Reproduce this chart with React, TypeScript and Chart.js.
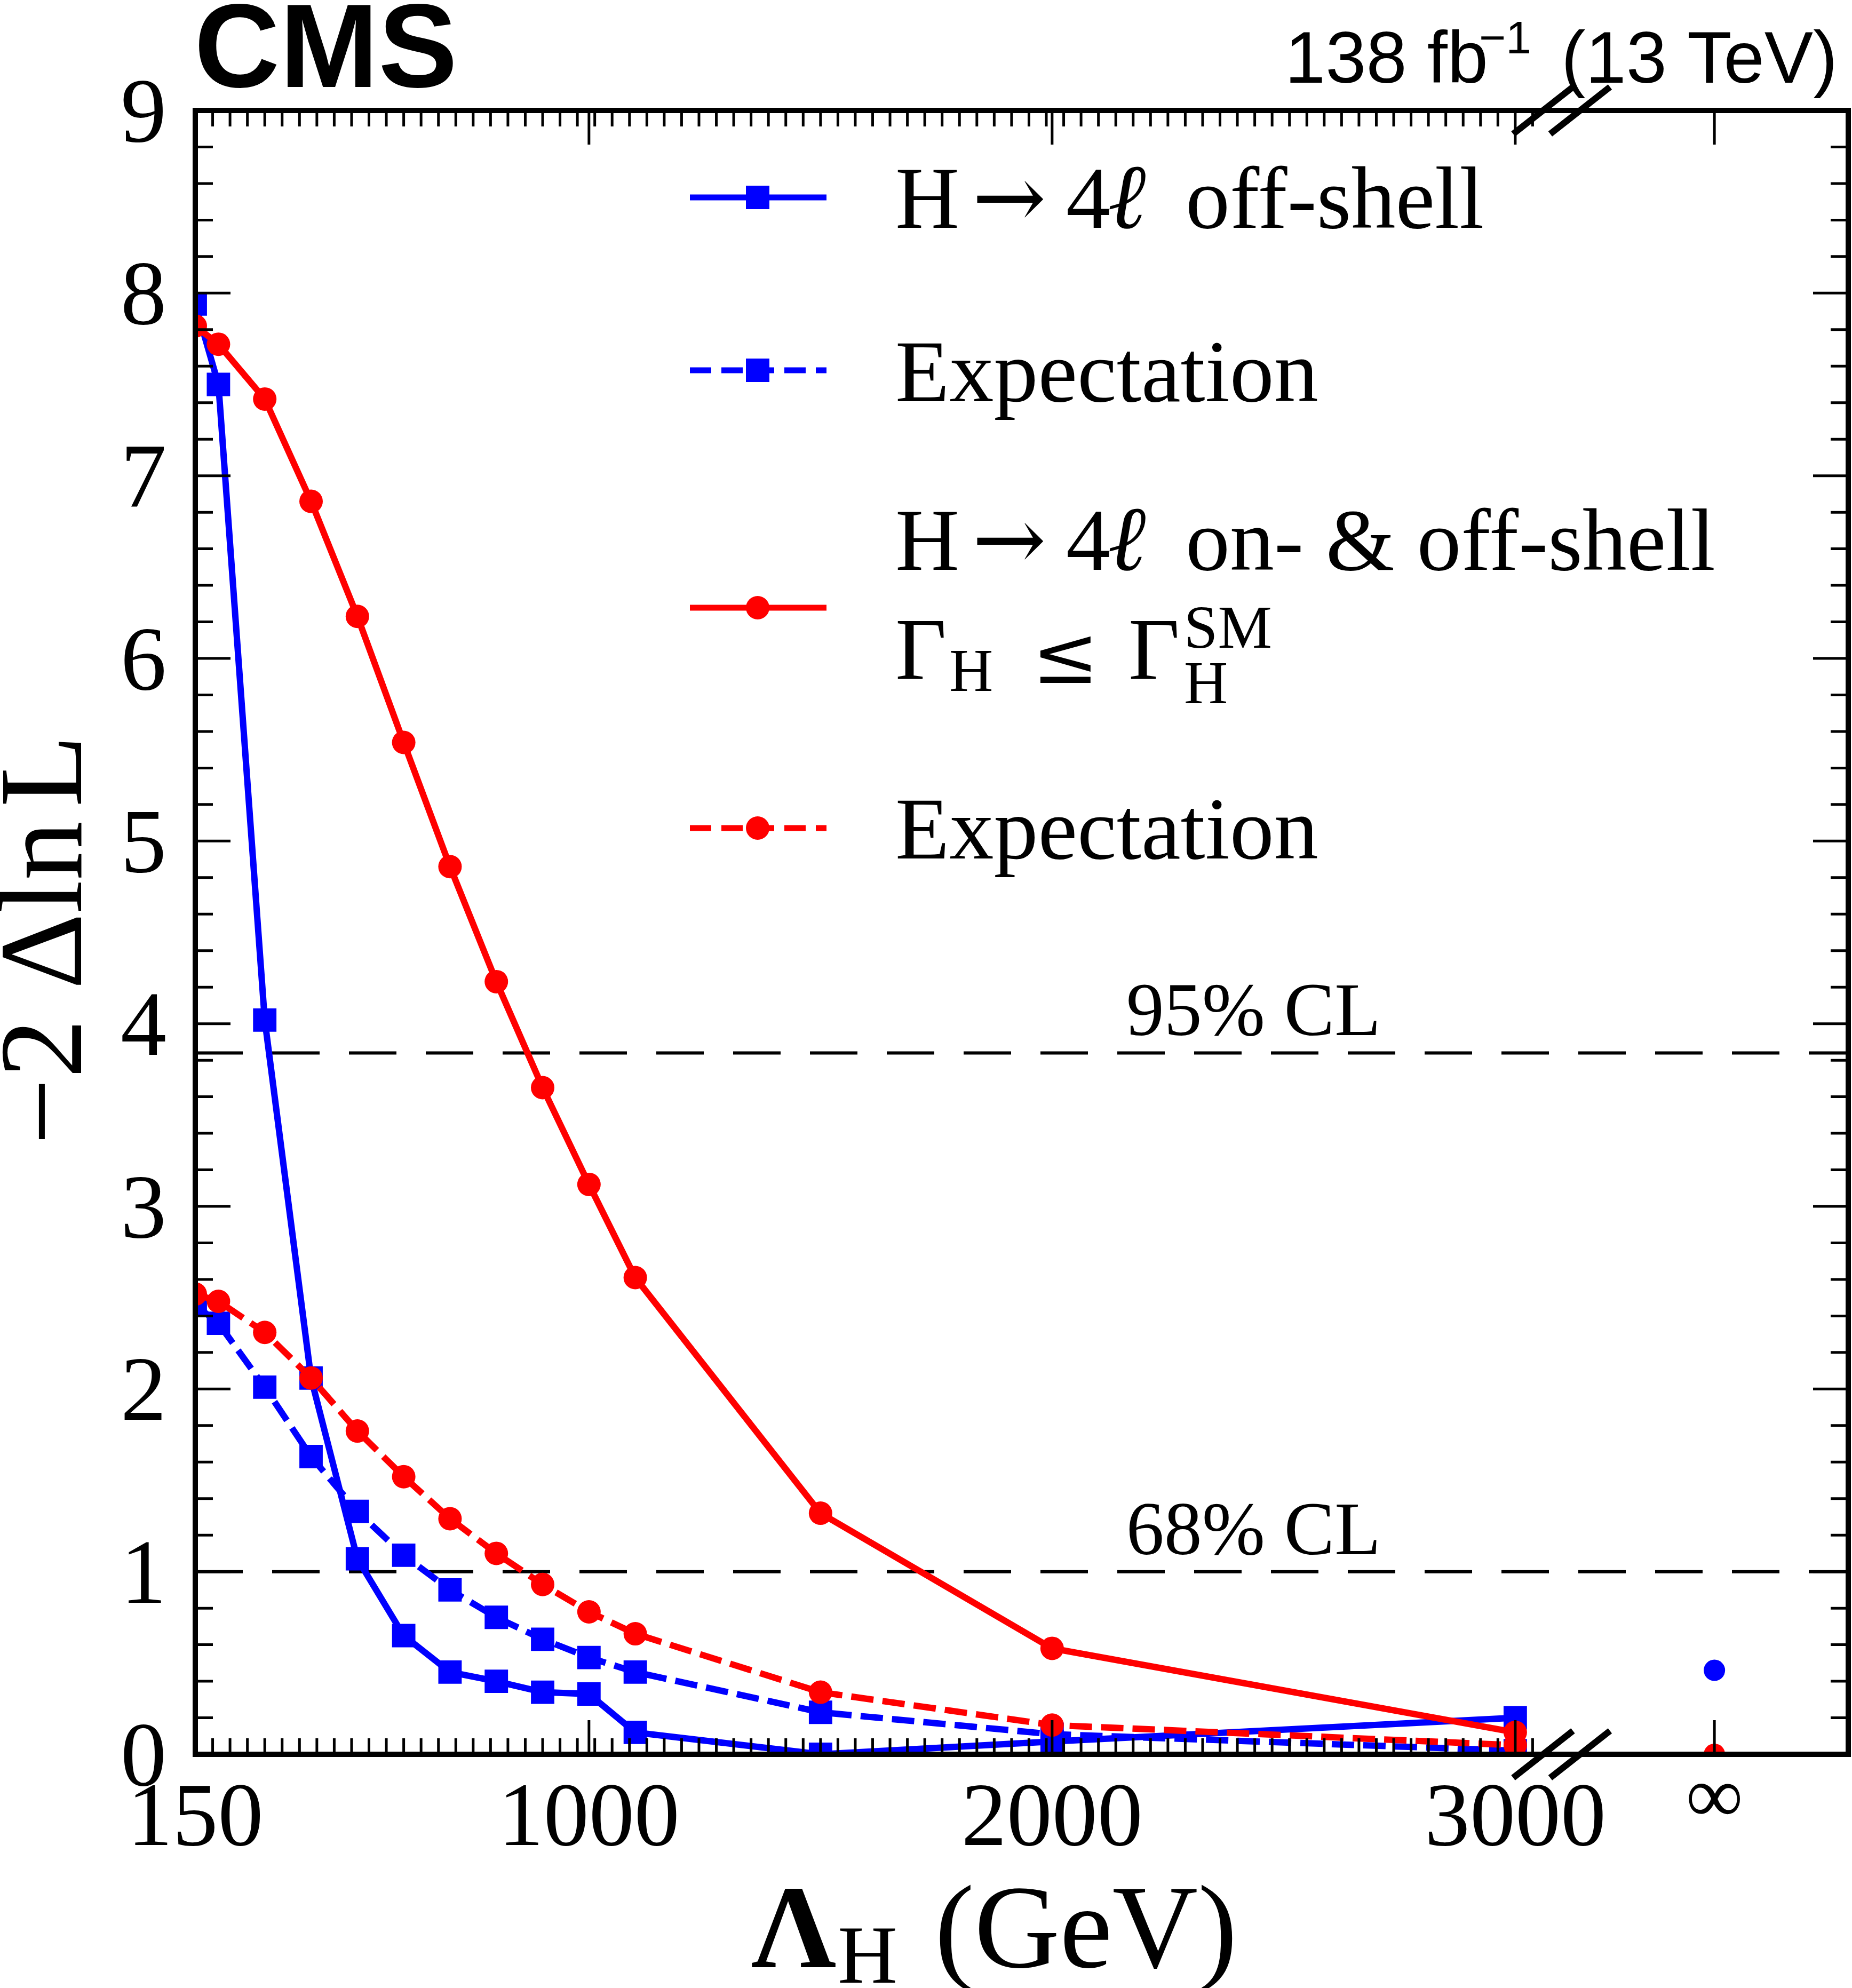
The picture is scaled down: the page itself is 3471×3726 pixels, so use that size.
import { useEffect, useRef } from "react";
import Chart from "chart.js/auto";

// Lambda_H points (GeV); the last column sits at the "infinity" slot after the axis break
const X_VALUES = [150, 200, 300, 400, 500, 600, 700, 800, 900, 1000, 1100, 1500, 2000, 3000];
const OFFSHELL_OBS = [7.94, 7.5, 4.02, 2.06, 1.07, 0.65, 0.45, 0.4, 0.34, 0.33, 0.12, 0.0, 0.07, 0.2];
const OFFSHELL_EXP = [2.46, 2.36, 2.01, 1.63, 1.33, 1.09, 0.9, 0.75, 0.63, 0.53, 0.45, 0.23, 0.11, 0.02];
const ONOFF_OBS = [7.82, 7.72, 7.42, 6.86, 6.23, 5.54, 4.86, 4.23, 3.65, 3.12, 2.61, 1.32, 0.58, 0.12];
const ONOFF_EXP = [2.52, 2.48, 2.31, 2.06, 1.77, 1.52, 1.29, 1.1, 0.93, 0.78, 0.66, 0.34, 0.16, 0.05];

const INF_X = 3430;
const OFFSHELL_INF = 0.46;
const ONOFF_INF = 0.0;

const X_MIN = 150;
const X_MAX = 3719;
const Y_MIN = 0;
const Y_MAX = 9;
const X_TICKS = [150, 1000, 2000, 3000];
const X_TICK_LABELS = ["150", "1000", "2000", "3000"];
const X_MAJOR_MARKS = [1000, 2000, 3000, INF_X];
const Y_TICKS = [0, 1, 2, 3, 4, 5, 6, 7, 8, 9];
const MINOR_X_STEP = 37.5;
const MINOR_X_END = 3040;
const BREAK_X = [3060, 3140];

const CL_LEVELS = [1, 3.84];
const CL_LABELS = ["68% CL", "95% CL"];
const CL_LABEL_X = 2160;

const BLUE = "#0000ff";
const RED = "#ff0000";
const SERIF = '"Liberation Serif", "Times New Roman", serif';
const MATH = '"DejaVu Serif", "Liberation Serif", serif';
const SANS = '"Liberation Sans", Arial, sans-serif';
const DASH = [42, 17];

const text = (
  ctx: CanvasRenderingContext2D,
  s: string,
  x: number,
  y: number,
  font: string,
  align: CanvasTextAlign = "left"
) => {
  ctx.font = font;
  ctx.textAlign = align;
  ctx.textBaseline = "alphabetic";
  ctx.fillText(s, x, y);
};

const rootStyle = {
  id: "rootStyle",
  beforeDatasetsDraw(chart: any) {
    const { ctx, chartArea } = chart;
    const ys = chart.scales.y;
    const xs = chart.scales.x;
    ctx.save();
    ctx.strokeStyle = "#000";
    ctx.fillStyle = "#000";
    ctx.lineWidth = 6;
    ctx.setLineDash([89, 55]);
    CL_LEVELS.forEach((v, i) => {
      const y = ys.getPixelForValue(v);
      ctx.beginPath();
      ctx.moveTo(chartArea.left, y);
      ctx.lineTo(chartArea.right, y);
      ctx.stroke();
      text(ctx, CL_LABELS[i], xs.getPixelForValue(CL_LABEL_X), y - 33, `142px ${SERIF}`);
    });
    ctx.restore();
  },
  afterDatasetsDraw(chart: any) {
    const { ctx, chartArea } = chart;
    const { left, right, top, bottom } = chartArea;
    const xs = chart.scales.x;
    const ys = chart.scales.y;
    ctx.save();
    ctx.setLineDash([]);
    ctx.strokeStyle = "#000";
    ctx.fillStyle = "#000";

    // ticks
    ctx.lineWidth = 5;
    ctx.beginPath();
    for (let k = 0; k <= 45; k++) {
      const y = ys.getPixelForValue(k * 0.2);
      const len = k % 5 === 0 ? 66 : 33;
      ctx.moveTo(left, y);
      ctx.lineTo(left + len, y);
      ctx.moveTo(right, y);
      ctx.lineTo(right - len, y);
    }
    for (let v = X_MIN; v <= MINOR_X_END; v += MINOR_X_STEP) {
      const x = xs.getPixelForValue(v);
      ctx.moveTo(x, bottom);
      ctx.lineTo(x, bottom - 30);
      ctx.moveTo(x, top);
      ctx.lineTo(x, top + 30);
    }
    X_MAJOR_MARKS.forEach((v) => {
      const x = xs.getPixelForValue(v);
      ctx.moveTo(x, bottom);
      ctx.lineTo(x, bottom - 64);
      ctx.moveTo(x, top);
      ctx.lineTo(x, top + 64);
    });
    ctx.stroke();

    // frame
    ctx.lineWidth = 10;
    ctx.strokeRect(left, top, right - left, bottom - top);

    // axis break marks
    ctx.lineWidth = 12;
    ctx.beginPath();
    BREAK_X.forEach((v) => {
      const x = xs.getPixelForValue(v);
      [top, bottom].forEach((y) => {
        ctx.moveTo(x - 56, y + 44);
        ctx.lineTo(x + 56, y - 44);
      });
    });
    ctx.stroke();

    // tick labels
    Y_TICKS.forEach((v) => {
      text(ctx, String(v), 312, ys.getPixelForValue(v) + 58, `172px ${SERIF}`, "right");
    });
    X_TICKS.forEach((v, i) => {
      text(ctx, X_TICK_LABELS[i], xs.getPixelForValue(v), 3458, `170px ${SERIF}`, "center");
    });
    ctx.font = `150px ${SERIF}`;
    const m = ctx.measureText("\u221e");
    const infBase = 3372 + (m.actualBoundingBoxAscent - m.actualBoundingBoxDescent) / 2;
    text(ctx, "\u221e", xs.getPixelForValue(INF_X), infBase, `150px ${SERIF}`, "center");

    // axis titles
    text(ctx, "\u039b", 1408, 3687, `bold 222px ${SERIF}`);
    text(ctx, "H", 1570, 3716, `155px ${SERIF}`);
    text(ctx, "(GeV)", 1752, 3687, `222px ${SERIF}`);

    ctx.save();
    ctx.translate(152, 2146);
    ctx.rotate(-Math.PI / 2);
    const yTitle = "\u22122 \u0394ln";
    text(ctx, yTitle, 0, 0, `222px ${SERIF}`);
    const w = ctx.measureText(yTitle).width;
    text(ctx, "L", w + 26, 0, `222px ${SERIF}`);
    ctx.restore();

    // header
    text(ctx, "CMS", 364, 163, `bold 222px ${SANS}`);
    text(ctx, "138 fb", 2408, 155, `137px ${SANS}`);
    text(ctx, "\u22121", 2772, 100, `86px ${SANS}`);
    text(ctx, "(13 TeV)", 2926, 155, `137px ${SANS}`);

    // legend
    const symbol = (y: number, color: string, dashed: boolean, square: boolean) => {
      ctx.strokeStyle = color;
      ctx.fillStyle = color;
      ctx.lineWidth = 11;
      ctx.setLineDash(dashed ? [40, 19] : []);
      ctx.beginPath();
      ctx.moveTo(1293, y);
      ctx.lineTo(1549, y);
      ctx.stroke();
      ctx.setLineDash([]);
      if (square) {
        ctx.fillRect(1420 - 22, y - 22, 44, 44);
      } else {
        ctx.beginPath();
        ctx.arc(1420, y, 22, 0, Math.PI * 2);
        ctx.fill();
      }
    };
    symbol(370, BLUE, false, true);
    symbol(694, BLUE, true, true);
    symbol(1139, RED, false, false);
    symbol(1552, RED, true, false);

    ctx.fillStyle = "#000";
    const F = `166px ${SERIF}`;
    const FS = `114px ${SERIF}`;
    const decay = (y: number, rest: string) => {
      text(ctx, "H", 1678, y, F);
      text(ctx, "\u2192", 1822, y, `166px ${MATH}`);
      text(ctx, "4", 1998, y, F);
      text(ctx, "\u2113", 2076, y, `italic 172px ${SERIF}`);
      text(ctx, rest, 2222, y, F);
    };
    decay(427, "off-shell");
    text(ctx, "Expectation", 1678, 752, F);
    decay(1068, "on- & off-shell");
    text(ctx, "\u0393", 1678, 1272, F);
    text(ctx, "H", 1779, 1295, FS);
    text(ctx, "\u2264", 1934, 1280, `150px ${MATH}`);
    text(ctx, "\u0393", 2115, 1272, F);
    text(ctx, "SM", 2219, 1214, FS);
    text(ctx, "H", 2219, 1318, FS);
    text(ctx, "Expectation", 1678, 1609, F);

    ctx.restore();
  },
};

const toPoints = (ys: number[]) => X_VALUES.map((x, i) => ({ x, y: ys[i] }));

const App = () => {
  const canvasRef = useRef<HTMLCanvasElement | null>(null);

  useEffect(() => {
    if (!canvasRef.current) return;
    document.body.style.margin = "0";

    const line = (data: { x: number; y: number }[], color: string, dashed: boolean, square: boolean) => ({
      data,
      showLine: true,
      borderColor: color,
      backgroundColor: color,
      borderWidth: 12,
      borderDash: dashed ? DASH : [],
      pointStyle: square ? "rect" : "circle",
      pointRadius: square ? 31 : 22,
      pointBackgroundColor: color,
      pointBorderWidth: 0,
      tension: 0,
      clip: 0,
    });

    const chart = new Chart(canvasRef.current, {
      type: "scatter",
      data: {
        datasets: [
          line(toPoints(ONOFF_OBS), RED, false, false),
          line(toPoints(ONOFF_EXP), RED, true, false),
          line(toPoints(OFFSHELL_OBS), BLUE, false, true),
          line(toPoints(OFFSHELL_EXP), BLUE, true, true),
          {
            data: [{ x: INF_X, y: ONOFF_INF }],
            showLine: false,
            pointStyle: "circle",
            pointRadius: 20,
            pointBackgroundColor: RED,
            pointBorderWidth: 0,
            clip: 0,
          },
          {
            data: [{ x: INF_X, y: OFFSHELL_INF }],
            showLine: false,
            pointStyle: "circle",
            pointRadius: 20,
            pointBackgroundColor: BLUE,
            pointBorderWidth: 0,
            clip: 0,
          },
        ] as any,
      },
      options: {
        animation: false,
        responsive: false,
        devicePixelRatio: 1,
        events: [],
        layout: { autoPadding: false, padding: { left: 366, right: 7, top: 207, bottom: 438 } },
        plugins: { legend: { display: false }, tooltip: { enabled: false } },
        scales: {
          x: { type: "linear", min: X_MIN, max: X_MAX, display: false },
          y: { type: "linear", min: Y_MIN, max: Y_MAX, display: false },
        },
      },
      plugins: [rootStyle],
    });

    return () => {
      chart.destroy();
    };
  }, []);

  return (
    <div style={{ position: "absolute", left: 0, top: 0, width: 3471, height: 3726, background: "#fff" }}>
      <canvas ref={canvasRef} width={3471} height={3726} style={{ display: "block", width: 3471, height: 3726 }} />
    </div>
  );
};

export default App;
